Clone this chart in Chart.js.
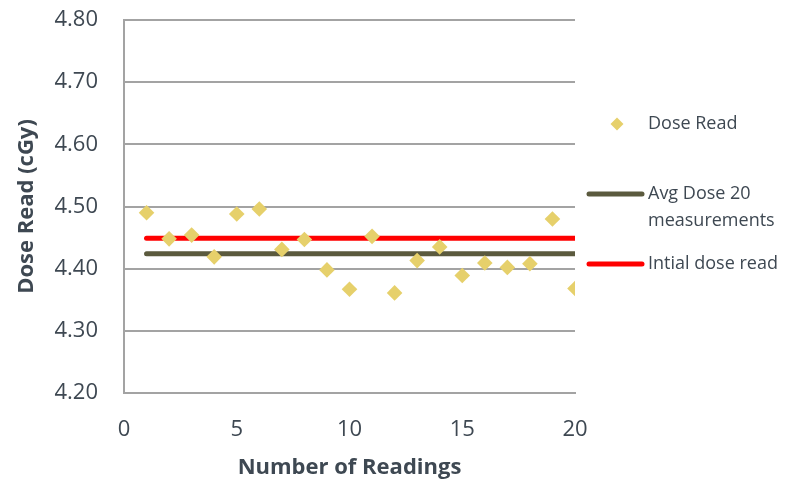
<!DOCTYPE html>
<html>
<head>
<meta charset="utf-8">
<script src="https://cdn.jsdelivr.net/npm/chart.js@4/dist/chart.umd.min.js"></script>
<style>
  html, body { margin: 0; padding: 0; background: #ffffff; }
  #wrap { width: 789px; height: 480px; }
</style>
</head>
<body>
<div id="wrap"><canvas id="chart" width="789" height="480"></canvas></div>
<script>
// Reading number (x) and the dose read at each reading, in cGy
const readings = [1, 2, 3, 4, 5, 6, 7, 8, 9, 10, 11, 12, 13, 14, 15, 16, 17, 18, 19, 20];
const doseRead = [4.490, 4.448, 4.454, 4.419, 4.488, 4.496, 4.431, 4.447, 4.398, 4.367,
                  4.452, 4.361, 4.413, 4.435, 4.389, 4.409, 4.402, 4.408, 4.480, 4.368];

// Reference levels, drawn across the first to last reading
const avgDose = 4.424;
const initialDose = 4.449;
const levelSpan = [1, 20];

// Axis ticks
const xTicks = [0, 5, 10, 15, 20];
const yTicks = [4.20, 4.30, 4.40, 4.50, 4.60, 4.70, 4.80];

const textColor = '#3e4852';
const gridColor = '#a3a3a3';
const fontFamily = '"Open Sans", Lato, sans-serif';

// Legend drawn to the right of the plot, with wrapped labels
const sideLegend = {
  id: 'sideLegend',
  afterDraw(chart, args, opts) {
    const ctx = chart.ctx;
    ctx.save();
    ctx.font = opts.fontSize + 'px ' + fontFamily;
    ctx.textBaseline = 'middle';
    ctx.textAlign = 'left';
    chart.data.datasets.forEach((ds, i) => {
      const cy = opts.rows[i];
      // wrap the label to the available width
      const words = ds.label.split(' ');
      const lines = [];
      let cur = '';
      words.forEach(w => {
        const test = cur ? cur + ' ' + w : w;
        if (cur && ctx.measureText(test).width > opts.maxWidth) {
          lines.push(cur);
          cur = w;
        } else {
          cur = test;
        }
      });
      if (cur) lines.push(cur);
      ctx.fillStyle = opts.color;
      lines.forEach((ln, k) => {
        ctx.fillText(ln, opts.textX, cy + k * opts.lineHeight);
      });
      // marker
      if (ds.showLine) {
        ctx.beginPath();
        ctx.strokeStyle = ds.borderColor;
        ctx.lineWidth = ds.borderWidth;
        ctx.lineCap = 'round';
        ctx.moveTo(opts.lineX1, cy);
        ctx.lineTo(opts.lineX2, cy);
        ctx.stroke();
      } else {
        const mx = opts.markerX, r = opts.markerRadius;
        ctx.beginPath();
        ctx.fillStyle = ds.backgroundColor;
        ctx.moveTo(mx, cy - r);
        ctx.lineTo(mx + r, cy);
        ctx.lineTo(mx, cy + r);
        ctx.lineTo(mx - r, cy);
        ctx.closePath();
        ctx.fill();
      }
    });
    ctx.restore();
  }
};

new Chart(document.getElementById('chart'), {
  type: 'scatter',
  data: {
    datasets: [
      {
        label: 'Dose Read',
        data: readings.map((x, i) => ({ x: x, y: doseRead[i] })),
        pointStyle: 'rectRot',
        pointRadius: 7.8,
        pointBorderWidth: 0,
        backgroundColor: '#e6d06b',
        borderColor: '#e6d06b',
        showLine: false
      },
      {
        label: 'Avg Dose 20 measurements',
        data: levelSpan.map(x => ({ x: x, y: avgDose })),
        showLine: true,
        borderColor: '#5b5a3e',
        backgroundColor: '#5b5a3e',
        borderWidth: 5,
        borderCapStyle: 'round',
        pointRadius: 0
      },
      {
        label: 'Intial dose read',
        data: levelSpan.map(x => ({ x: x, y: initialDose })),
        showLine: true,
        borderColor: '#ff0000',
        backgroundColor: '#ff0000',
        borderWidth: 5,
        borderCapStyle: 'round',
        pointRadius: 0
      }
    ]
  },
  options: {
    responsive: false,
    animation: false,
    layout: { padding: { left: 0, right: 214, top: 20, bottom: 0 } },
    plugins: {
      legend: { display: false },
      tooltip: { enabled: false },
      sideLegend: {
        color: textColor,
        fontSize: 18,
        textX: 648,
        rows: [124, 194, 264],
        lineHeight: 27,
        maxWidth: 140,
        markerX: 617,
        markerRadius: 6.5,
        lineX1: 589,
        lineX2: 642
      }
    },
    scales: {
      x: {
        type: 'linear',
        min: 0,
        max: 20,
        afterBuildTicks: s => { s.ticks = xTicks.map(v => ({ value: v })); },
        afterFit: s => { s.height = 87; },
        grid: { display: false, drawTicks: false },
        border: { display: true, color: gridColor, width: 2 },
        ticks: {
          color: textColor,
          font: { family: fontFamily, size: 22 },
          padding: 24,
          maxRotation: 0
        },
        title: {
          display: true,
          text: 'Number of Readings',
          color: textColor,
          font: { family: fontFamily, size: 22, weight: 'bold' },
          padding: { top: 0, bottom: -1 }
        }
      },
      y: {
        type: 'linear',
        min: 4.2,
        max: 4.8,
        afterBuildTicks: s => { s.ticks = yTicks.map(v => ({ value: v })); },
        afterFit: s => { s.width = 124; s.paddingTop = 0; s.paddingBottom = 0; },
        grid: { color: gridColor, lineWidth: 2, drawTicks: false },
        border: { display: true, color: gridColor, width: 2 },
        ticks: {
          color: textColor,
          font: { family: fontFamily, size: 22 },
          padding: 26,
          callback: v => Number(v).toFixed(2)
        },
        title: {
          display: true,
          text: 'Dose Read (cGy)',
          color: textColor,
          font: { family: fontFamily, size: 22, weight: 'bold' },
          padding: { top: 14, bottom: 0 }
        }
      }
    }
  },
  plugins: [sideLegend]
});
</script>
</body>
</html>
